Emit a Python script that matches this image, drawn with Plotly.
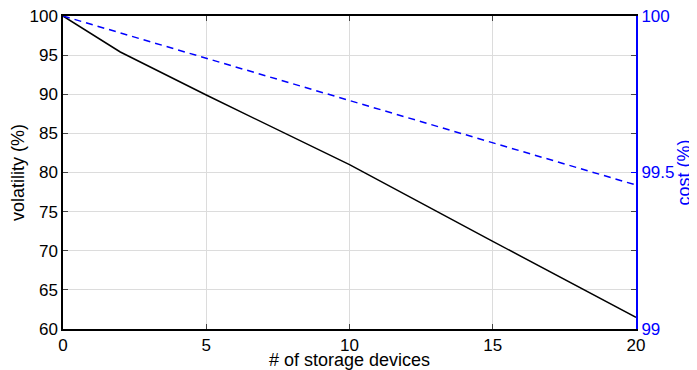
import plotly.graph_objects as go

devices = [0, 2, 5, 10, 15, 20]
volatility = [100, 95.4, 89.9, 81.0, 71.2, 61.5]
cost_x = [0, 20]
cost = [100, 99.46]

FONT = "Liberation Sans, Arial, Helvetica, sans-serif"

fig = go.Figure()
fig.add_trace(go.Scatter(x=devices, y=volatility, mode="lines",
                         line=dict(color="black", width=1.5), showlegend=False))
fig.add_trace(go.Scatter(x=cost_x, y=cost, mode="lines", yaxis="y2",
                         line=dict(color="blue", width=1.5, dash="7px,5px"), showlegend=False))

# page body has an 8px default margin, so the figure is 8px smaller and offset
fig.update_layout(
    width=689, height=362,
    margin=dict(l=55, r=61, t=8, b=41, autoexpand=False),
    plot_bgcolor="white", paper_bgcolor="white",
    font=dict(family=FONT, size=17, color="black"),
    xaxis=dict(range=[0, 20], tickvals=[0, 5, 10, 15, 20], ticks="inside", ticklen=5,
               showline=True, linecolor="black", linewidth=1.5, mirror="ticks",
               showgrid=True, gridcolor="#dcdcdc", gridwidth=1, zeroline=False,
               automargin=False, ticklabeloverflow="allow",
               title=dict(text="# of storage devices", standoff=0, font=dict(size=18)),
               tickfont=dict(size=17)),
    yaxis=dict(range=[60, 100], tickvals=list(range(60, 101, 5)), ticks="inside", ticklen=5,
               showline=True, linecolor="black", linewidth=1.5, mirror="ticks",
               showgrid=True, gridcolor="#dcdcdc", gridwidth=1, zeroline=False,
               automargin=False, ticklabeloverflow="allow",
               title=dict(text="volatility (%)", standoff=10, font=dict(size=18)),
               tickfont=dict(size=17)),
    yaxis2=dict(range=[99, 100], tickvals=[99, 99.5, 100], ticktext=["99", "99.5", "100"],
                overlaying="y", side="right", ticks="inside", ticklen=5,
                showline=True, linecolor="blue", linewidth=2, tickcolor="blue",
                showgrid=False, zeroline=False, automargin=False, ticklabeloverflow="allow",
                title=dict(text="cost (%)", standoff=2, font=dict(size=18, color="blue")),
                tickfont=dict(size=17, color="blue")),
)

fig.write_html("out.html")
